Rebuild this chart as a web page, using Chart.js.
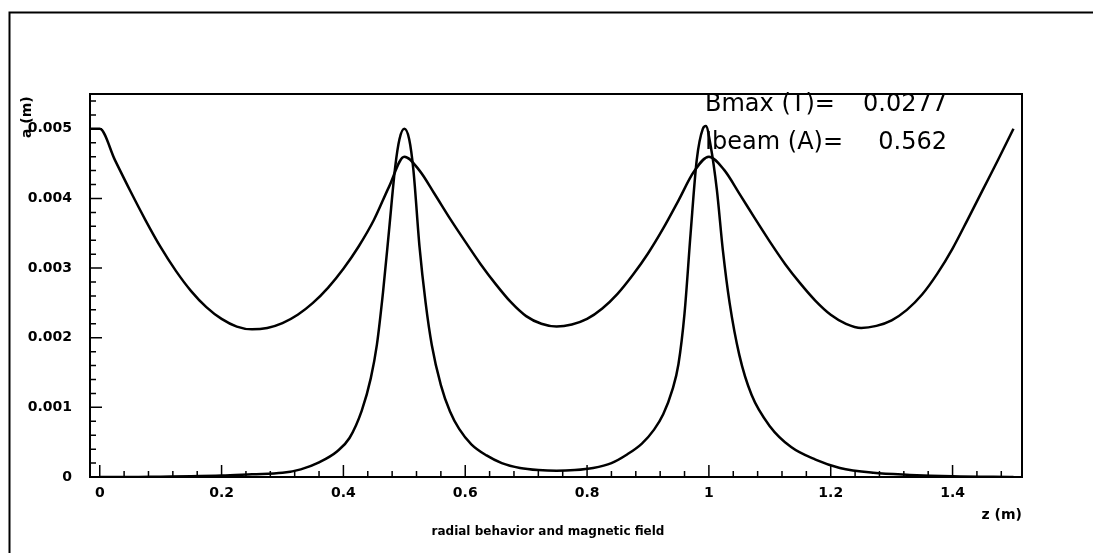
<!DOCTYPE html>
<html>
<head>
<meta charset="utf-8">
<script src="https://cdn.jsdelivr.net/npm/chart.js@4/dist/chart.umd.min.js"></script>
<style>
  body { margin: 0; background: #fff; }
  canvas { display: block; }
</style>
</head>
<body>
<canvas id="chart" width="1093" height="553"></canvas>
<script>
// beam envelope a(z), in mm (plotted in m)
const zRadius = [-0.016, 0, 0.025, 0.05, 0.075, 0.1, 0.125, 0.15, 0.175, 0.2, 0.225, 0.25, 0.275, 0.3,
  0.325, 0.35, 0.375, 0.4, 0.425, 0.45, 0.475, 0.5, 0.525, 0.55, 0.575, 0.6, 0.625, 0.65, 0.675,
  0.7, 0.725, 0.75, 0.775, 0.8, 0.825, 0.85, 0.875, 0.9, 0.925, 0.95, 0.975, 1.0, 1.025, 1.05,
  1.075, 1.1, 1.125, 1.15, 1.175, 1.2, 1.225, 1.25, 1.275, 1.3, 1.325, 1.35, 1.375, 1.4, 1.425,
  1.45, 1.475, 1.5];
const radiusMM = [5.00, 5.00, 4.55, 4.11, 3.69, 3.30, 2.96, 2.67, 2.44, 2.27, 2.16, 2.12, 2.14, 2.21,
  2.33, 2.50, 2.72, 2.99, 3.31, 3.69, 4.17, 4.60, 4.40, 4.06, 3.71, 3.38, 3.06, 2.77, 2.51,
  2.31, 2.20, 2.16, 2.19, 2.27, 2.42, 2.63, 2.90, 3.21, 3.57, 3.97, 4.38, 4.60, 4.41, 4.07,
  3.72, 3.38, 3.06, 2.78, 2.53, 2.33, 2.20, 2.14, 2.17, 2.25, 2.40, 2.62, 2.92, 3.28, 3.70,
  4.13, 4.56, 5.00];

// magnetic field, scaled so that Bmax reads 0.005
const zField = [0, 0.05, 0.1, 0.15, 0.2, 0.25, 0.3, 0.33, 0.36, 0.39, 0.41, 0.43, 0.445, 0.455,
  0.465, 0.475, 0.485, 0.492, 0.5, 0.508, 0.515, 0.525, 0.535, 0.545, 0.56, 0.575, 0.59, 0.61,
  0.635, 0.66, 0.69, 0.72, 0.75, 0.78, 0.81, 0.84, 0.865, 0.89, 0.91, 0.925, 0.94, 0.95, 0.96,
  0.97, 0.98, 0.99, 0.995, 1.003, 1.013, 1.023, 1.034, 1.05, 1.07, 1.1, 1.135, 1.175, 1.215,
  1.27, 1.33, 1.4, 1.5];
const fieldMM = [0.00, 0.00, 0.005, 0.01, 0.02, 0.04, 0.06, 0.11, 0.21, 0.37, 0.56, 0.95, 1.42, 1.90,
  2.65, 3.55, 4.45, 4.85, 5.00, 4.85, 4.40, 3.30, 2.50, 1.90, 1.32, 0.94, 0.69, 0.47,
  0.31, 0.20, 0.13, 0.10, 0.09, 0.10, 0.13, 0.20, 0.32, 0.48, 0.68, 0.90, 1.25, 1.62, 2.35,
  3.50, 4.55, 5.00, 5.04, 4.75, 4.13, 3.25, 2.50, 1.75, 1.18, 0.73, 0.43, 0.25, 0.13,
  0.06, 0.03, 0.01, 0.00];

const xTickLabels = ['0', '0.2', '0.4', '0.6', '0.8', '1', '1.2', '1.4'];
const yTickLabels = ['0', '0.001', '0.002', '0.003', '0.004', '0.005'];

const infoLines = [['Bmax (T)=', '0.0277'], ['Ibeam (A)=', '0.562']];
const xTitle = 'z (m)';
const yTitle = 'a (m)';
const caption = 'radial behavior and magnetic field';

const labelFont = 'bold 14px "DejaVu Sans"';

// frame, inward ticks and texts, PAW style
const pawDecor = {
  id: 'pawDecor',
  afterDraw(chart) {
    const ctx = chart.ctx;
    const a = chart.chartArea;
    const xs = chart.scales.x, ys = chart.scales.y;
    ctx.save();
    ctx.strokeStyle = '#000';
    ctx.fillStyle = '#000';

    // outer page frame
    ctx.lineWidth = 2;
    ctx.beginPath();
    ctx.moveTo(9.5, 553);
    ctx.lineTo(9.5, 12.5);
    ctx.lineTo(1093, 12.5);
    ctx.stroke();

    // plot box
    ctx.strokeRect(a.left, a.top, a.right - a.left, a.bottom - a.top);

    // x ticks (minor every 0.04)
    ctx.lineWidth = 1.5;
    ctx.beginPath();
    for (let i = 0; i <= 37; i++) {
      const px = xs.getPixelForValue(i * 0.04);
      const len = i % 5 === 0 ? 12 : 6;
      ctx.moveTo(px, a.bottom);
      ctx.lineTo(px, a.bottom - len);
    }
    // y ticks (minor every 0.0002)
    for (let i = 0; i <= 27; i++) {
      const py = ys.getPixelForValue(i * 0.0002);
      const len = i % 5 === 0 ? 12 : 6;
      ctx.moveTo(a.left, py);
      ctx.lineTo(a.left + len, py);
    }
    ctx.stroke();

    // axis titles and caption
    ctx.font = labelFont;
    ctx.textBaseline = 'middle';
    ctx.textAlign = 'right';
    ctx.fillText(xTitle, a.right, 515);
    ctx.font = 'bold 12px "DejaVu Sans"';
    ctx.textAlign = 'center';
    ctx.fillText(caption, 548, 532);

    ctx.save();
    ctx.translate(27, 138);
    ctx.rotate(-Math.PI / 2);
    ctx.font = labelFont;
    ctx.textAlign = 'left';
    ctx.fillText(yTitle, 0, 0);
    ctx.restore();

    // Bmax / Ibeam box text
    ctx.font = '24px "DejaVu Sans"';
    infoLines.forEach((ln, i) => {
      const y = 105 + i * 38;
      ctx.textAlign = 'left';
      ctx.fillText(ln[0], 705, y);
      ctx.textAlign = 'right';
      ctx.fillText(ln[1], 947, y);
    });
    ctx.restore();
  }
};

const ctx = document.getElementById('chart').getContext('2d');
new Chart(ctx, {
  type: 'line',
  data: {
    datasets: [
      {
        label: 'a',
        data: zRadius.map((z, i) => ({ x: z, y: radiusMM[i] / 1000 })),
        borderColor: '#000',
        borderWidth: 2.5,
        pointRadius: 0,
        cubicInterpolationMode: 'monotone',
        fill: false
      },
      {
        label: 'B',
        data: zField.map((z, i) => ({ x: z, y: fieldMM[i] / 1000 })),
        borderColor: '#000',
        borderWidth: 2.5,
        pointRadius: 0,
        cubicInterpolationMode: 'monotone',
        fill: false
      }
    ]
  },
  options: {
    responsive: false,
    animation: false,
    layout: { padding: { left: 10, right: 71, top: 94, bottom: 0 } },
    plugins: {
      legend: { display: false },
      tooltip: { enabled: false }
    },
    scales: {
      x: {
        type: 'linear',
        min: -0.016,
        max: 1.514,
        afterBuildTicks: s => { s.ticks = xTickLabels.map(t => ({ value: parseFloat(t) })); },
        afterFit: s => { s.height = 76; },
        grid: { drawOnChartArea: false, drawTicks: false },
        border: { display: false },
        ticks: {
          padding: 8,
          color: '#000',
          font: { family: 'DejaVu Sans', size: 14, weight: 'bold' },
          callback: (v, i) => xTickLabels[i],
          maxRotation: 0
        }
      },
      y: {
        type: 'linear',
        min: 0,
        max: 0.0055,
        afterBuildTicks: s => { s.ticks = yTickLabels.map(t => ({ value: parseFloat(t) })); },
        afterFit: s => { s.width = 80; },
        grid: { drawOnChartArea: false, drawTicks: false },
        border: { display: false },
        ticks: {
          padding: 18,
          color: '#000',
          font: { family: 'DejaVu Sans', size: 14, weight: 'bold' },
          callback: (v, i) => yTickLabels[i]
        }
      }
    }
  },
  plugins: [pawDecor]
});
</script>
</body>
</html>
